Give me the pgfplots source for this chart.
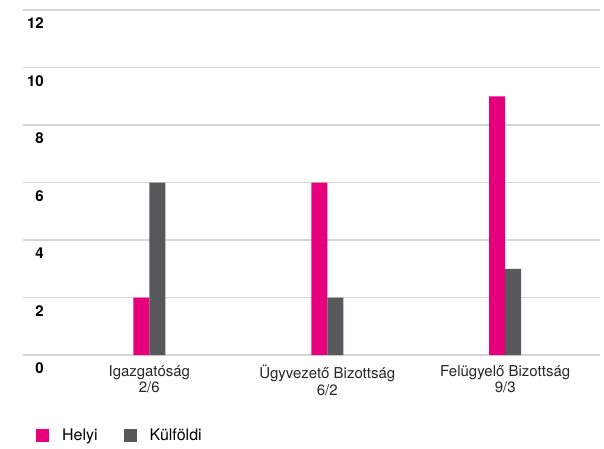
\documentclass[border=0pt]{standalone}
\usepackage{fontspec}
\setmainfont{TeX Gyre Heros}
\usepackage{pgfplots}
\pgfplotsset{compat=1.18}
\definecolor{tmagenta}{HTML}{E6007E}
\definecolor{tgray}{HTML}{58585A}
\definecolor{gridgray}{HTML}{D6D6D6}
\begin{document}
\begin{tikzpicture}
\useasboundingbox (0,0) rectangle (604pt,448pt);
\begin{axis}[
  at={(23pt,93pt)}, anchor=south west,
  scale only axis, width=577pt, height=345pt,
  ybar=0pt, bar width=16pt,
  xmin=-0.71, xmax=2.533,
  ymin=0, ymax=12,
  ytick={0,2,...,12},
  xtick={0,1,2},
  xticklabels={{Igazgatóság\\2/6},{Ügyvezető Bizottság\\6/2},{Felügyelő Bizottság\\9/3}},
  axis line style={draw=none},
  major tick length=0pt,
  ymajorgrids,
  grid style={gridgray, line width=1.1pt},
  /pgf/number format/assume math mode=true,
  yticklabel style={anchor=north east, inner sep=0pt, xshift=21pt, yshift=-7.5pt,
    font=\bfseries\fontsize{15}{15}\selectfont},
  xticklabel style={align=center, inner sep=0pt, yshift=-10pt, text=black!85,
    font=\fontsize{15}{16.5}\selectfont},
  legend style={at={(rel axis cs:0.0225,-0.2333)}, anchor=west, draw=none, fill=none,
    inner sep=0pt, font=\fontsize{16}{16}\selectfont,
    nodes={inner sep=0pt},
    /tikz/every odd column/.append style={column sep=13pt},
    /tikz/every even column/.append style={column sep=26pt}},
  legend columns=-1,
  legend image code/.code={\fill[#1] (0pt,-6.5pt) rectangle (13pt,6.5pt);},
]
\addplot[fill=tmagenta, draw=none] coordinates {(0,2) (1,6) (2,9)};
\addplot[fill=tgray, draw=none] coordinates {(0,6) (1,2) (2,3)};
\legend{Helyi, Külföldi}
\end{axis}
\end{tikzpicture}
\end{document}
